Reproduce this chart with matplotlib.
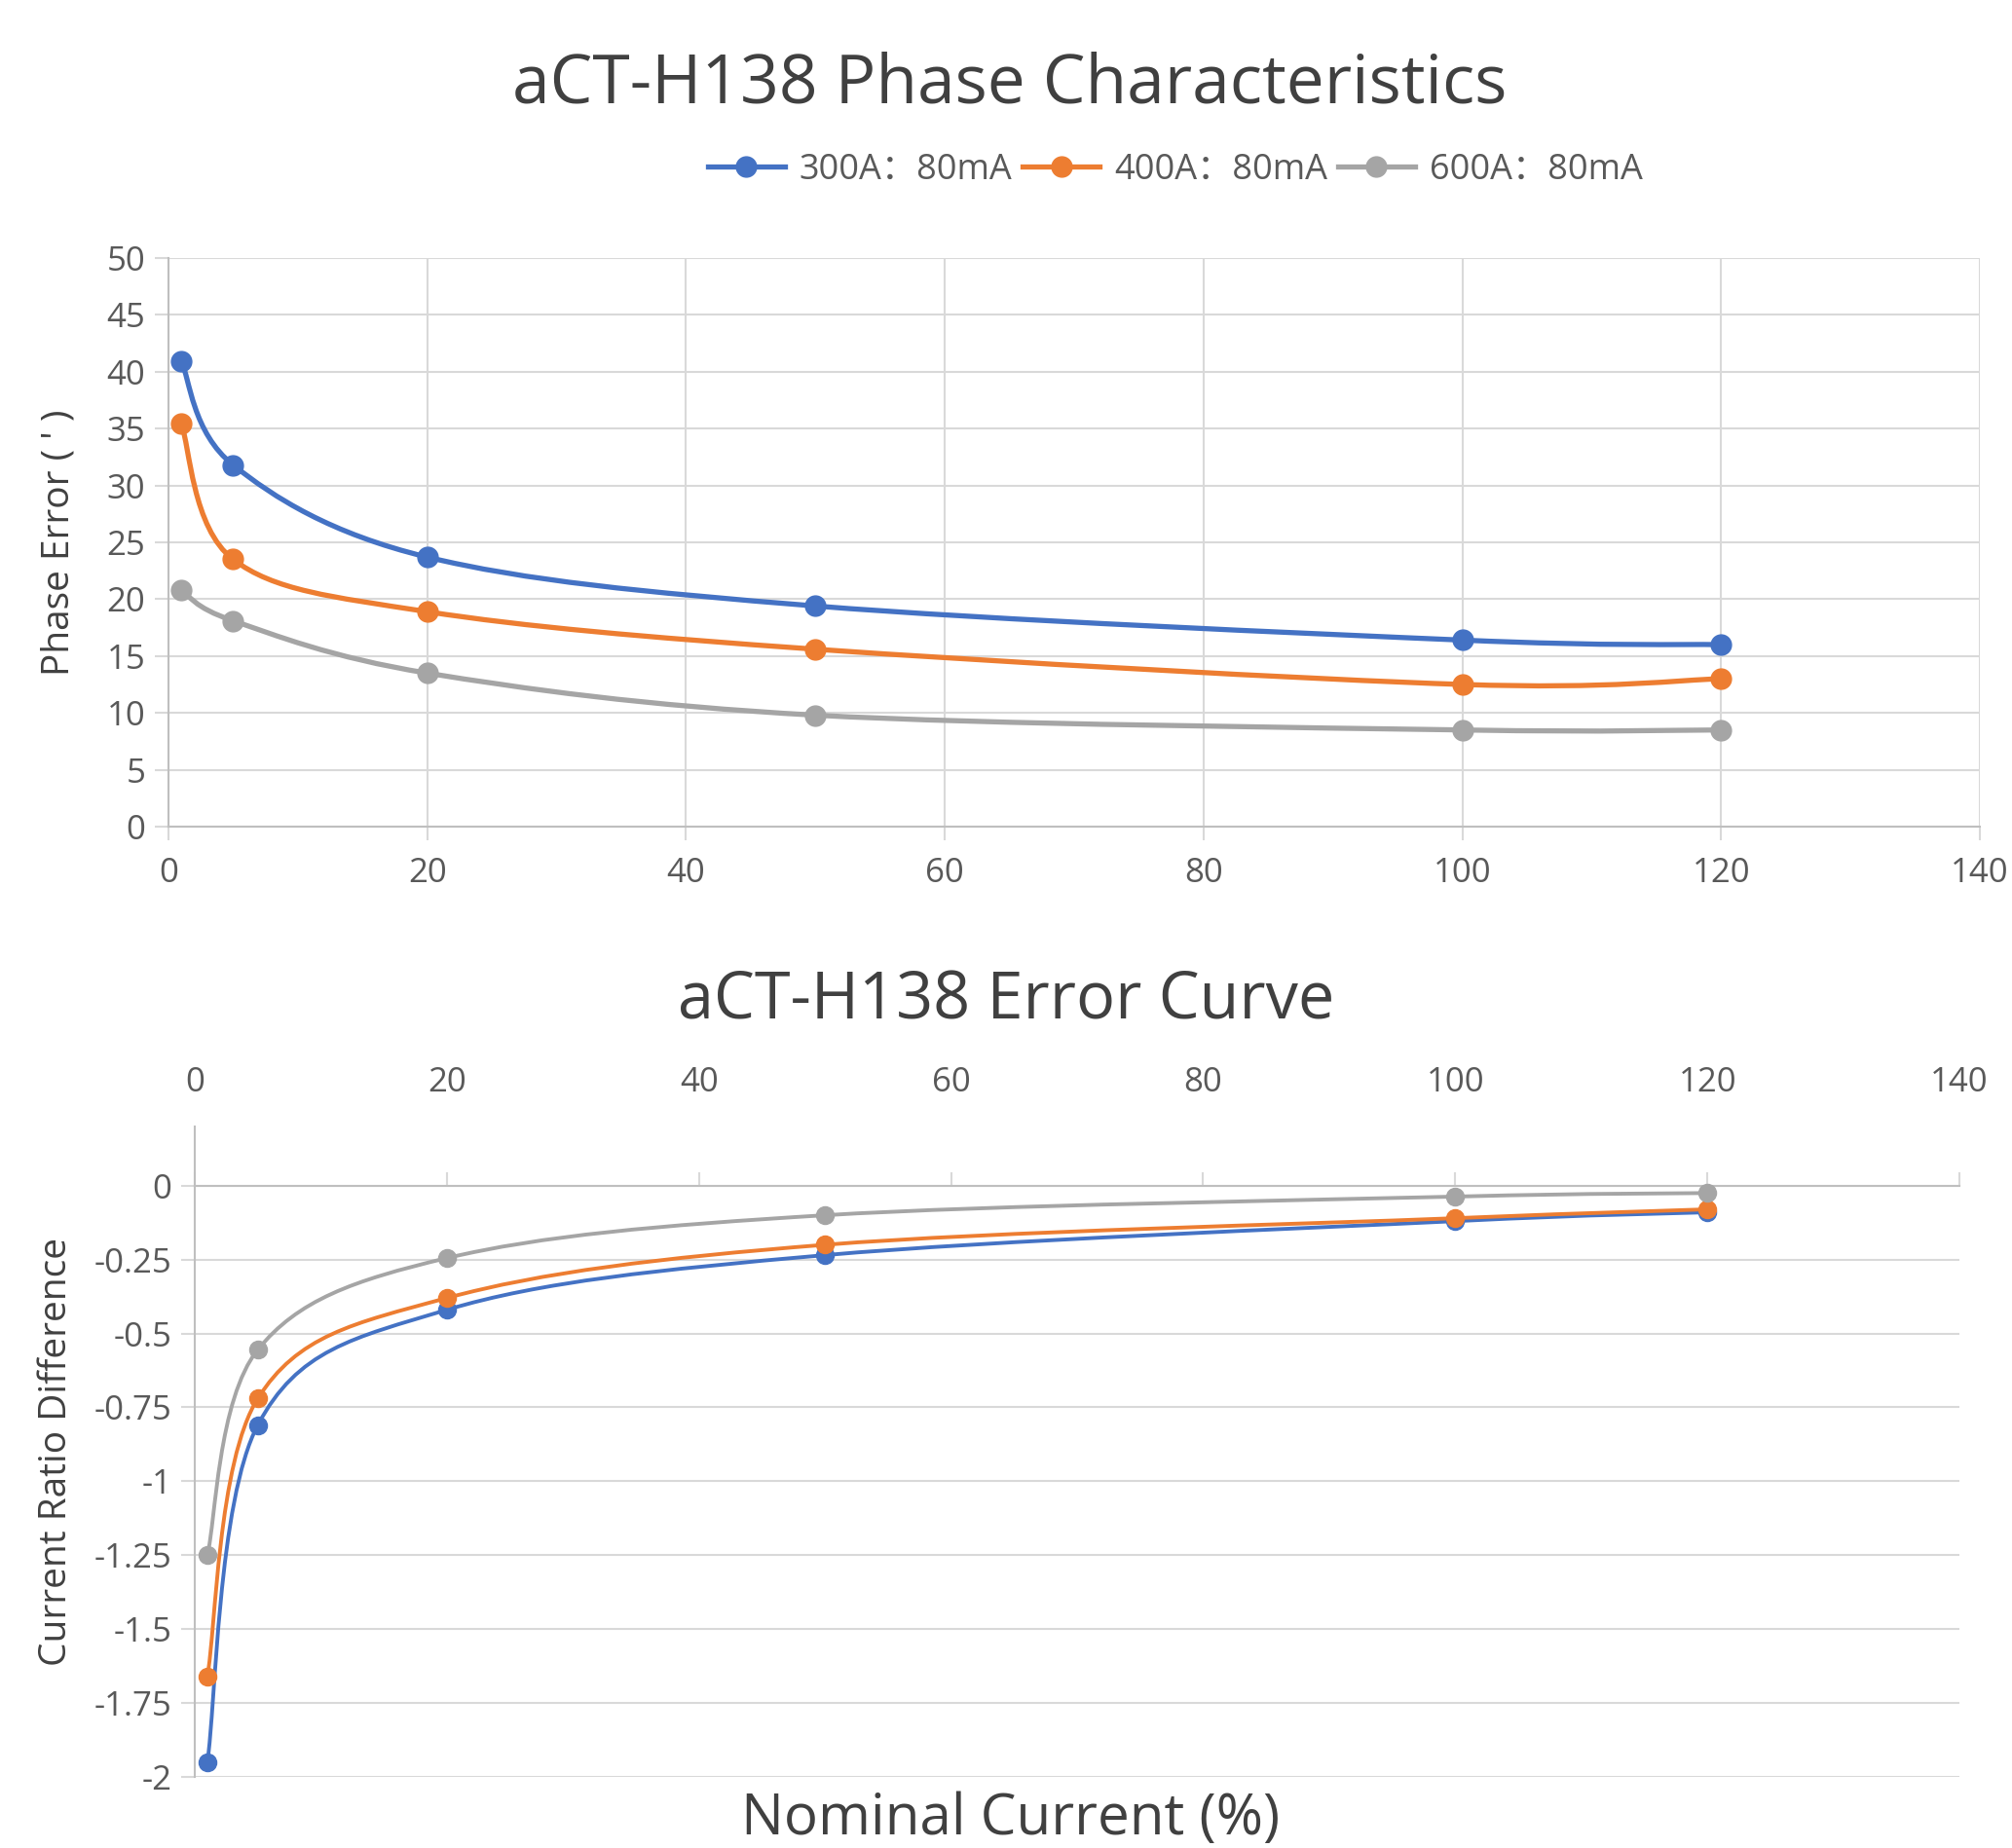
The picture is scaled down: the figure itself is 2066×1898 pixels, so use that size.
import matplotlib
matplotlib.use("Agg")
import matplotlib.pyplot as plt
from matplotlib.path import Path
from matplotlib.patches import PathPatch
from matplotlib.lines import Line2D
from matplotlib.ticker import FuncFormatter, MultipleLocator

plt.rcParams['font.family'] = ['Open Sans', 'Noto Sans CJK SC', 'DejaVu Sans']
plt.rcParams['axes.unicode_minus'] = False

# nominal current (%)
current = [1, 5, 20, 50, 100, 120]
series_labels = ["300A：80mA", "400A：80mA", "600A：80mA"]
colors = ["#4472C4", "#ED7D31", "#A5A5A5"]
x_ticks = [0, 20, 40, 60, 80, 100, 120, 140]

# phase error (')
phase_300 = [40.9, 31.8, 23.7, 19.4, 16.4, 16.0]
phase_400 = [35.4, 23.5, 18.9, 15.6, 12.5, 13.0]
phase_600 = [20.8, 18.1, 13.5, 9.8, 8.5, 8.5]

# current ratio difference
ratio_300 = [-1.95, -0.81, -0.42, -0.235, -0.12, -0.09]
ratio_400 = [-1.66, -0.72, -0.38, -0.20, -0.11, -0.08]
ratio_600 = [-1.25, -0.555, -0.245, -0.10, -0.037, -0.025]

grid_c = "#D9D9D9"
text_c = "#595959"
label_c = "#404040"


def smooth_path(xs, ys):
    # excel-like smoothed line: catmull-rom converted to cubic bezier
    pts = list(zip(xs, ys))
    n = len(pts)
    verts = [pts[0]]
    codes = [Path.MOVETO]
    for i in range(n - 1):
        p0 = pts[i - 1] if i > 0 else pts[i]
        p1 = pts[i]
        p2 = pts[i + 1]
        p3 = pts[i + 2] if i + 2 < n else pts[i + 1]
        c1 = (p1[0] + (p2[0] - p0[0]) / 6, p1[1] + (p2[1] - p0[1]) / 6)
        c2 = (p2[0] - (p3[0] - p1[0]) / 6, p2[1] - (p3[1] - p1[1]) / 6)
        verts += [c1, c2, p2]
        codes += [Path.CURVE4] * 3
    return Path(verts, codes)


def draw_series(ax, xs, ys, color, lw, ms):
    ax.add_patch(PathPatch(smooth_path(xs, ys), fill=False, edgecolor=color, lw=lw,
                           capstyle='round', joinstyle='round', zorder=3))
    ax.plot(xs, ys, 'o', color=color, markersize=ms, zorder=4)


fig = plt.figure(figsize=(20.66, 18.98), dpi=100)

# ---------- top: phase characteristics ----------
ax1 = fig.add_axes([0.0837, 0.5527, 0.9003, 0.3077])
for ys, c in zip([phase_300, phase_400, phase_600], colors):
    draw_series(ax1, current, ys, c, 3.8, 15)
ax1.set_xlim(0, 140)
ax1.set_ylim(0, 50)
ax1.set_xticks(x_ticks)
ax1.yaxis.set_major_locator(MultipleLocator(5))
ax1.grid(True, color=grid_c, lw=1.5, zorder=0)
ax1.set_axisbelow(True)
for s in ['top', 'right']:
    ax1.spines[s].set_visible(False)
for s in ['left', 'bottom']:
    ax1.spines[s].set_color("#BFBFBF")
    ax1.spines[s].set_linewidth(1.5)
ax1.tick_params(axis='both', colors=grid_c, labelcolor=text_c, labelsize=25,
                length=10, width=1.5)
ax1.tick_params(axis='x', pad=12)
ax1.tick_params(axis='y', pad=7)
ax1.set_ylabel("Phase Error ( ' )", fontsize=28, color=label_c, labelpad=22)

fig.text(0.502, 0.954, "aCT-H138 Phase Characteristics", ha='center', va='center',
         fontsize=50, color=label_c)

handles = [Line2D([], [], color=c, lw=3.8, marker='o', markersize=15) for c in colors]
fig.legend(handles, series_labels, loc='center', bbox_to_anchor=(0.584, 0.908), ncol=3,
           frameon=False, fontsize=26, labelcolor=text_c, handlelength=2.2,
           handletextpad=0.4, columnspacing=0.3)

# ---------- bottom: error curve ----------
ax2 = fig.add_axes([0.0968, 0.0385, 0.8771, 0.3519])
for ys, c in zip([ratio_300, ratio_400, ratio_600], colors):
    draw_series(ax2, current, ys, c, 2.8, 13)
ax2.set_xlim(0, 140)
ax2.set_ylim(-2, 0.2)
ax2.set_xticks(x_ticks)
ax2.yaxis.set_major_locator(MultipleLocator(0.25))
ax2.yaxis.set_major_formatter(FuncFormatter(lambda v, p: "{:g}".format(round(v, 2))))
ax2.grid(True, axis='y', color=grid_c, lw=1.5, zorder=0)
ax2.set_axisbelow(True)
for s in ['top', 'right']:
    ax2.spines[s].set_visible(False)
ax2.spines['bottom'].set_position(('data', 0))
ax2.spines['bottom'].set_color("#BFBFBF")
ax2.spines['bottom'].set_linewidth(1.5)
ax2.spines['left'].set_color("#BFBFBF")
ax2.spines['left'].set_linewidth(1.5)
ax2.tick_params(axis='x', direction='in', colors=grid_c, length=10, width=1.5,
                labelbottom=False)
ax2.tick_params(axis='y', colors=grid_c, labelcolor=text_c, labelsize=25,
                length=10, width=1.5, pad=7)
sec = ax2.secondary_xaxis('top')
sec.set_xticks(x_ticks)
sec.spines['top'].set_visible(False)
sec.tick_params(axis='x', length=0, labelsize=25, labelcolor=text_c, pad=20)
ax2.set_ylabel("Current Ratio Difference", fontsize=28, color=label_c, labelpad=14)

fig.text(0.5, 0.4578, "aCT-H138 Error Curve", ha='center', va='center',
         fontsize=48, color=label_c)
fig.text(0.502, 0.0155, "Nominal Current (%)", ha='center', va='center',
         fontsize=42, color=label_c)

fig.savefig("out.png", dpi=100)
